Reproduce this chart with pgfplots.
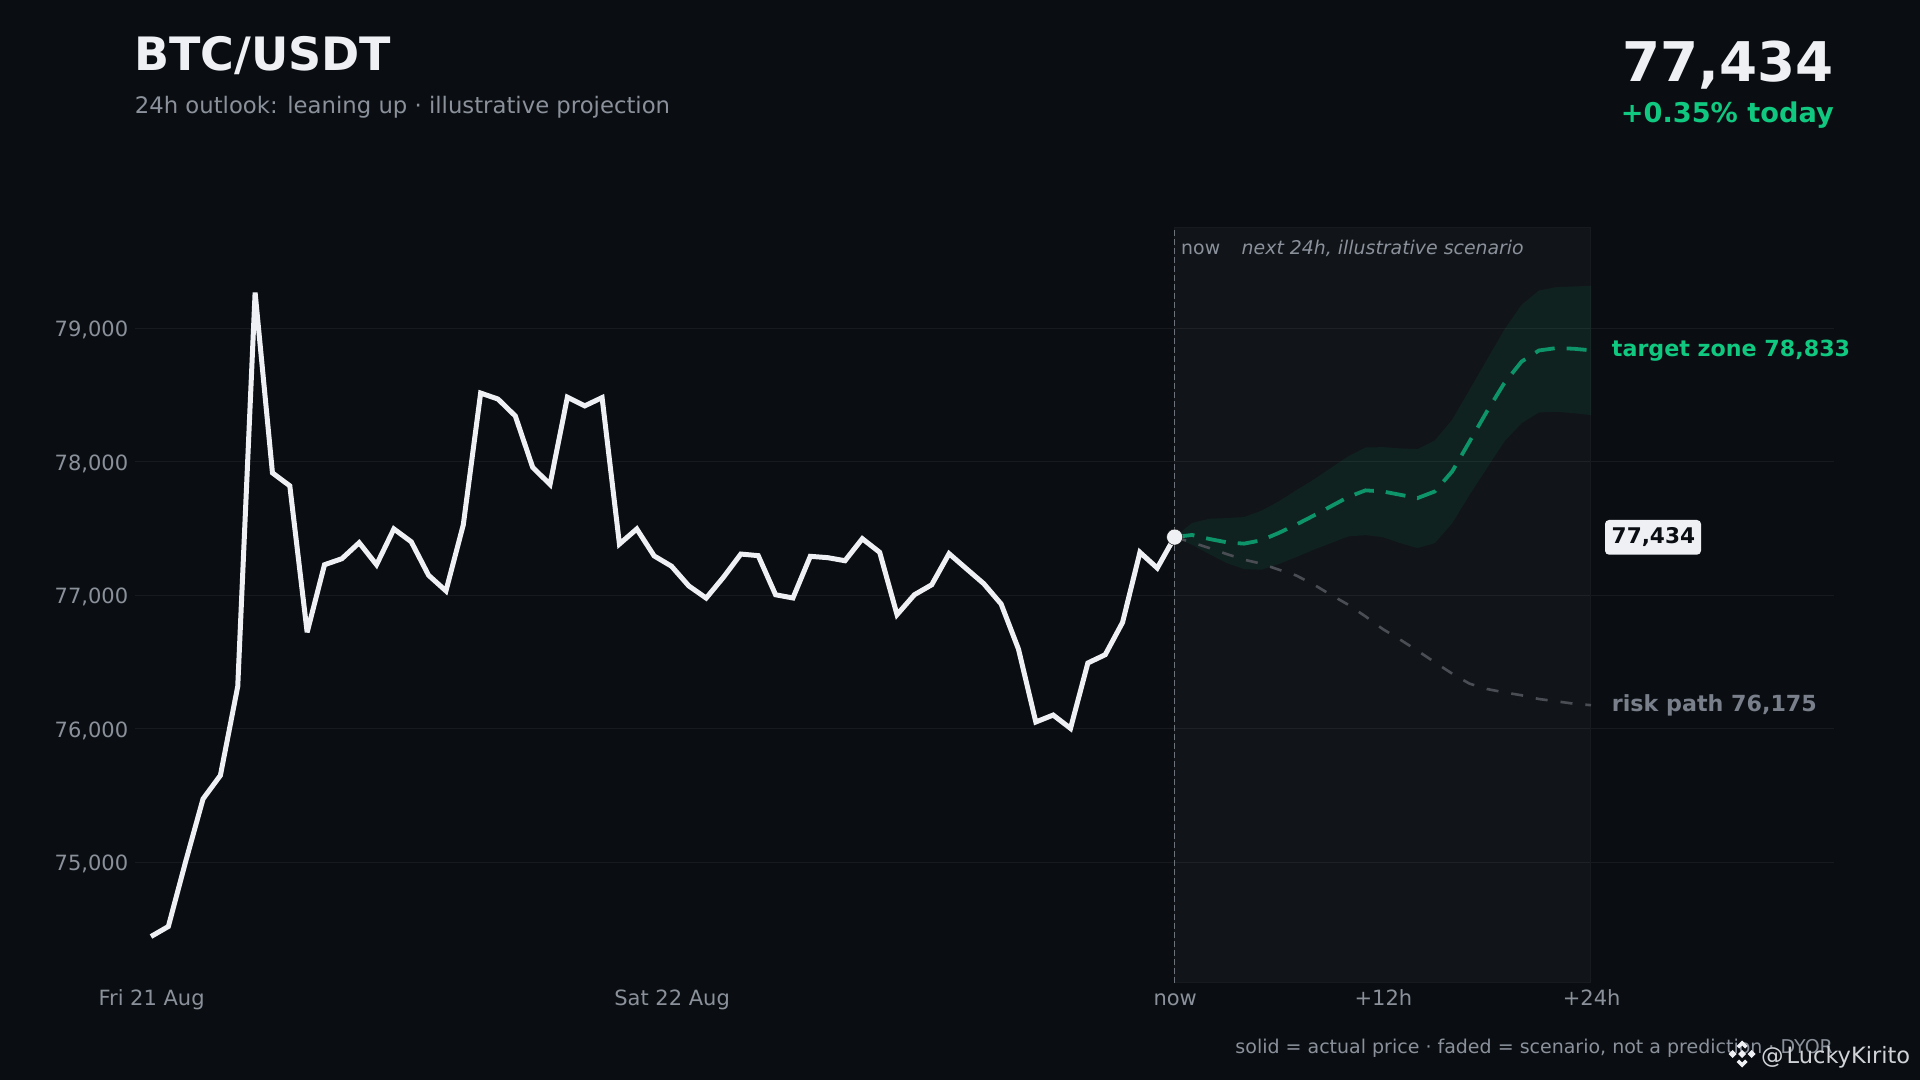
\documentclass[border=0pt]{standalone}
\usepackage{fontspec}
\setmainfont{DejaVu Sans}
\usepackage{pgfplots}
\pgfplotsset{compat=1.18}
\definecolor{bg}{HTML}{0A0E12}
\definecolor{gridc}{HTML}{171B1F}
\definecolor{txt}{HTML}{8B919B}
\definecolor{wht}{HTML}{EEF0F4}
\definecolor{grn}{HTML}{10C880}
\definecolor{grnd}{HTML}{0D9468}
\definecolor{rsk}{HTML}{4A4D54}
\definecolor{rsktxt}{HTML}{7A808B}
\newcommand{\fs}[1]{\fontsize{#1}{#1}\selectfont}
\begin{document}
\begin{tikzpicture}[x=1pt,y=1pt]
\useasboundingbox (0,0) rectangle (1920,1080);
\fill[bg] (0,0) rectangle (1920,1080);
\begin{axis}[
  at={(134.7pt,97.3pt)}, anchor=south west,
  scale only axis, width=1699.3pt, height=755.7pt,
  xmin=-0.94, xmax=97.0076, ymin=74096, ymax=79757,
  axis line style={draw=none},
  major tick length=0pt,
  scaled y ticks=false,
  ytick={75000,76000,77000,78000,79000},
  xtick={0,30,59,71,83},
  xticklabels={Fri 21 Aug,Sat 22 Aug,now,+12h,+24h},
  ymajorgrids, grid style={gridc, line width=1pt},
  /pgf/number format/1000 sep={,},
  /pgf/number format/assume math mode=true,
  tick label style={font=\fs{21}, text=txt},
  xticklabel style={anchor=base, yshift=-23pt, xshift=0.6pt},
  yticklabel style={anchor=east, xshift=-3pt, yshift=-2pt},
]
\addplot[draw=gridc, fill=white, fill opacity=0.03, line width=1pt] coordinates {(59,74096)(82.97,74096)(82.97,79750)(59,79750)} -- cycle;
\addplot[draw=none, fill=grn, fill opacity=0.075] coordinates {
(59,77434)(60,77539)(61,77571)(62,77576)(63,77584)(64,77631)(65,77701)(66,77784)(67,77863)(68,77951)(69,78038)(70,78105)(71,78108)(72,78098)(73,78093)(74,78158)(75,78313)(76,78537)(77,78762)(78,78986)(79,79174)(80,79281)(81,79306)(82,79311)(83,79316)
(83,78348)(82,78363)(81,78373)(80,78368)(79,78288)(78,78150)(77,77951)(76,77751)(75,77539)(74,77389)(73,77352)(72,77389)(71,77434)(70,77449)(69,77439)(68,77389)(67,77339)(66,77284)(65,77232)(64,77190)(63,77195)(62,77240)(61,77307)(60,77377)
} -- cycle;
\addplot[rsk, line width=2.6pt, dash pattern=on 12pt off 13pt] coordinates {
(59,77434)(60,77394)(61,77352)(62,77307)(63,77265)(64,77235)(65,77190)(66,77147)(67,77080)(68,77002)(69,76928)(70,76840)(71,76745)(72,76666)(73,76583)(74,76496)(75,76411)(76,76336)(77,76296)(78,76271)(79,76249)(80,76221)(81,76204)(82,76186)(83,76175)};
\addplot[grnd, line width=3.8pt, dash pattern=on 20pt off 12pt] coordinates {
(59,77434)(60,77450)(61,77420)(62,77395)(63,77385)(64,77410)(65,77465)(66,77527)(67,77594)(68,77664)(69,77734)(70,77784)(71,77776)(72,77751)(73,77726)(74,77776)(75,77926)(76,78150)(77,78375)(78,78587)(79,78749)(80,78832)(81,78850)(82,78845)(83,78833)};
\addplot[draw=txt, draw opacity=0.75, line width=1.5pt, dash pattern=on 6pt off 3pt] coordinates {(59,74096)(59,79750)};
\addplot[wht, line width=5pt, line join=miter, miter limit=3] coordinates {
(0,74442)(1,74517)(2,75005)(3,75473)(4,75649)(5,76316)(6,79266)(7,77915)(8,77818)(9,76721)(10,77227)(11,77272)(12,77392)(13,77227)(14,77495)(15,77399)(16,77148)(17,77031)(18,77526)(19,78513)(20,78468)(21,78341)(22,77956)(23,77829)(24,78482)(25,78417)(26,78479)(27,77382)(28,77495)(29,77293)(30,77216)(31,77068)(32,76977)(33,77134)(34,77307)(35,77295)(36,77002)(37,76978)(38,77290)(39,77280)(40,77257)(41,77422)(42,77320)(43,76853)(44,77002)(45,77077)(46,77310)(47,77197)(48,77085)(49,76933)(50,76595)(51,76049)(52,76101)(53,76001)(54,76491)(55,76553)(56,76795)(57,77320)(58,77202)(59,77434)};
\addplot[only marks, mark=*, mark size=8pt, mark options={fill=wht, draw=none}] coordinates {(59,77434)};
\end{axis}
% header
\node[anchor=base west, inner sep=0, text=wht] at (134,1009) {\fs{46}\bfseries BTC/USDT};
\node[anchor=base west, inner sep=0, text=txt] at (134.7,966.7) {\fs{22.75}24h outlook: leaning up · illustrative projection};
\node[anchor=base east, inner sep=0, text=wht] at (1834,998) {\fs{54.7}\bfseries 77,434};
\node[anchor=base east, inner sep=0, text=grn] at (1834,957) {\fs{27.2}\bfseries +0.35\% today};
% band captions
\node[anchor=base west, inner sep=0, text=txt] at (1181,825) {\fs{18.9}now};
\node[anchor=base west, inner sep=0, text=txt] at (1241.5,825) {\fs{18.9}\itshape next 24h, illustrative scenario};
% right labels
\node[anchor=base west, inner sep=0, text=grn] at (1611.7,723) {\fs{22.2}\bfseries target zone 78,833};
\node[anchor=base west, inner sep=0, text=rsktxt] at (1611.7,368.3) {\fs{22.2}\bfseries risk path 76,175};
\fill[wht, rounded corners=4pt] (1605,525.3) rectangle (1701,560);
\node[anchor=base west, inner sep=0, text=bg] at (1611.5,536.7) {\fs{21.6}\bfseries 77,434};
% footer
\node[anchor=base east, inner sep=0, text=txt] at (1833,27) {\fs{19}solid = actual price · faded = scenario, not a prediction · DYOR};
% watermark
\begin{scope}[shift={(1742,26)}, fill=wht]
\fill (0,13.5) -- (5.5,8) -- (3,5.5) -- (0,8.5) -- (-3,5.5) -- (-5.5,8) -- cycle;
\fill (0,-13.5) -- (5.5,-8) -- (3,-5.5) -- (0,-8.5) -- (-3,-5.5) -- (-5.5,-8) -- cycle;
\fill (-13.5,0) -- (-9.5,4) -- (-5.5,0) -- (-9.5,-4) -- cycle;
\fill (13.5,0) -- (9.5,4) -- (5.5,0) -- (9.5,-4) -- cycle;
\fill (0,4) -- (4,0) -- (0,-4) -- (-4,0) -- cycle;
\end{scope}
\node[anchor=base west, inner sep=0, text=wht!88!black] at (1761,17) {\fs{22.5}@\hspace{3pt}LuckyKirito};
\end{tikzpicture}
\end{document}
